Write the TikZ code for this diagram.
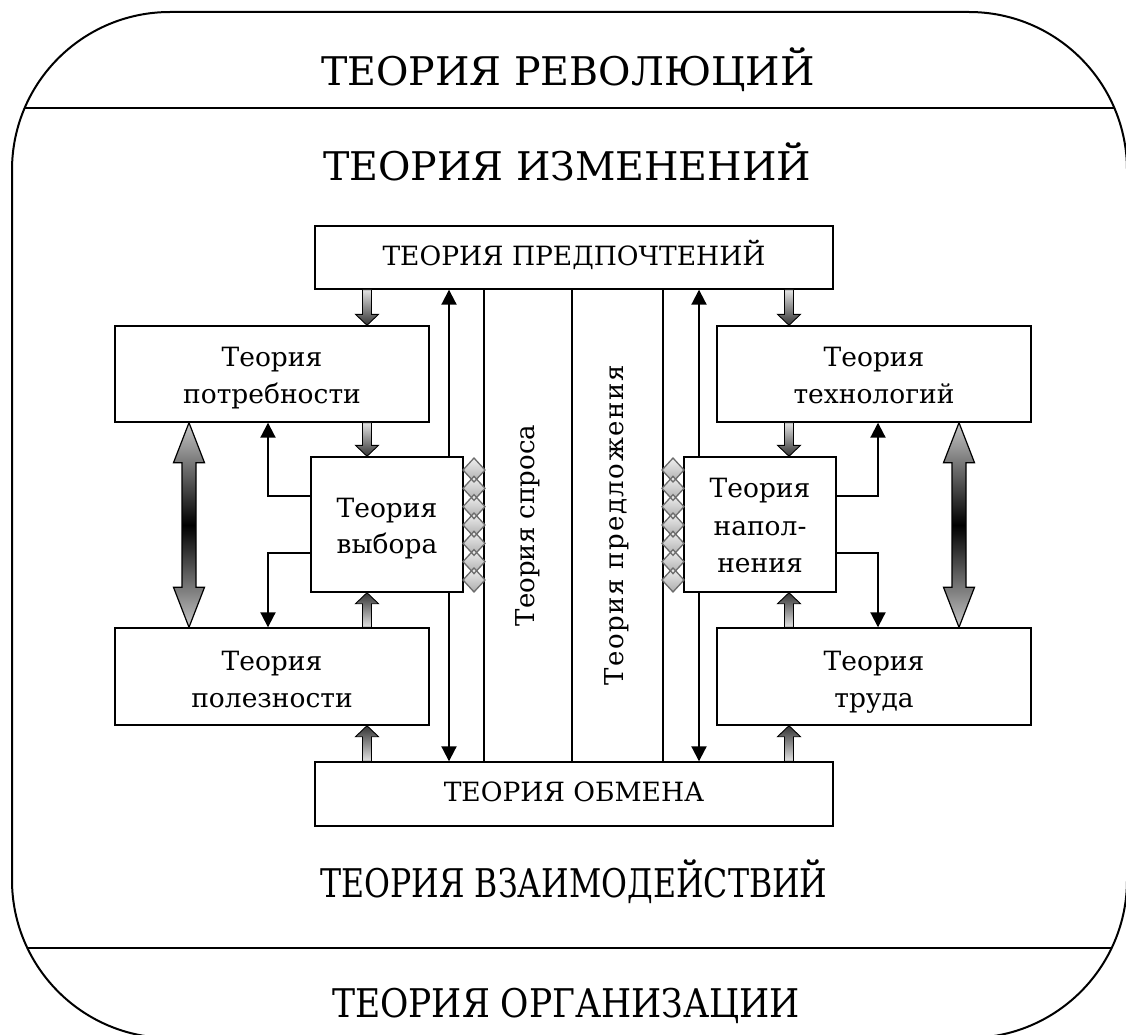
\documentclass[tikz,border=0pt]{standalone}
\usepackage{fontspec}
\newfontfamily\serf{DejaVu Serif}
\usetikzlibrary{arrows.meta,calc}
\tikzset{
  box/.style={draw, line width=1.4pt, fill=white, inner sep=0pt},
  btext/.style={anchor=base, inner sep=0pt, font=\serf\fontsize{26.5}{37}\selectfont},
  col/.style={draw, line width=1.4pt, inner sep=0pt},
  coltext/.style={rotate=90, inner sep=0pt, font=\serf\fontsize{26}{37}\selectfont},
  biglabel/.style={inner sep=0pt, font=\serf\fontsize{39.5}{50}\selectfont},
  thinarr/.style={line width=2pt},
  tipa/.style={-{Triangle[length=15pt,width=15pt]}},
  tipb/.style={{Triangle[length=15pt,width=15pt]}-{Triangle[length=15pt,width=15pt]}},
  gdn/.style={draw, line width=0.9pt, top color=gray!22, bottom color=black!80},
  gup/.style={draw, line width=0.9pt, top color=black!80, bottom color=gray!22},
  dbl/.style={draw, line width=1.2pt, top color=gray!45, bottom color=gray!45, middle color=black},
  diafill/.style={top color=gray!12, bottom color=gray!65},
  diadraw/.style={draw=gray!85!black, line width=1.3pt},
}
\newcommand\myGdown[2]{%
  \path[gdn] let \p1=(#1), \p2=(#2) in
    (\x1-4.5pt,\y1) -- (\x1+4.5pt,\y1) -- (\x1+4.5pt,\y2+11pt) -- (\x1+11.5pt,\y2+11pt)
    -- (\x1,\y2) -- (\x1-11.5pt,\y2+11pt) -- (\x1-4.5pt,\y2+11pt) -- cycle;}
\newcommand\myGup[2]{%
  \path[gup] let \p1=(#1), \p2=(#2) in
    (\x1-4.5pt,\y1) -- (\x1+4.5pt,\y1) -- (\x1+4.5pt,\y2-11pt) -- (\x1+11.5pt,\y2-11pt)
    -- (\x1,\y2) -- (\x1-11.5pt,\y2-11pt) -- (\x1-4.5pt,\y2-11pt) -- cycle;}
\newcommand\myDbl[2]{%
  \path[dbl] let \p1=(#1), \p2=(#2) in
    (\x1,\y1) -- (\x1+15.5pt,\y1-40pt) -- (\x1+7pt,\y1-40pt) -- (\x1+7pt,\y2+40pt)
    -- (\x1+15.5pt,\y2+40pt) -- (\x1,\y2) -- (\x1-15.5pt,\y2+40pt) -- (\x1-7pt,\y2+40pt)
    -- (\x1-7pt,\y1-40pt) -- (\x1-15.5pt,\y1-40pt) -- cycle;}
\begin{document}
\begin{tikzpicture}[x=1pt,y=-1pt]
\useasboundingbox (0,0) rectangle (1126,1035);
% outer frame
\begin{scope}
  \clip (0,0) rectangle (1126,1035);
  \draw[line width=2pt, rounded corners=158pt] (12,12) rectangle (1127,1038);
\end{scope}
\begin{scope}
  \clip[rounded corners=158pt] (12,12) rectangle (1127,1038);
  \draw[line width=1.6pt] (0,108) -- (1126,108);
  \draw[line width=1.6pt] (0,948) -- (1126,948);
\end{scope}
% big labels
\node[biglabel, anchor=base] (rev) at (568,86) {ТЕОРИЯ РЕВОЛЮЦИЙ};
\node[biglabel, anchor=base] (izm) at (567,181) {ТЕОРИЯ ИЗМЕНЕНИЙ};
\node[biglabel, anchor=base] (vzm) at (574,897) {\scalebox{0.8}[1]{ТЕОРИЯ ВЗАИМОДЕЙСТВИЙ}};
\node[biglabel, anchor=base] (org) at (566,1017) {\scalebox{0.875}[1]{ТЕОРИЯ ОРГАНИЗАЦИИ}};
% helper columns
\coordinate (cL) at (367,0);
\coordinate (cR) at (789,0);
\coordinate (lL) at (449,0);
\coordinate (lR) at (699,0);
\coordinate (eL) at (268,0);
\coordinate (eR) at (878,0);
\coordinate (bL) at (189,0);
\coordinate (bR) at (959,0);
% central columns
\node[col, minimum width=88pt, minimum height=473pt] (spros) at (528,525.5) {};
\node[col, minimum width=91pt, minimum height=473pt] (pred) at (617.5,525.5) {};
\node[coltext] (sprost) at (spros.center) {Теория спроса};
\node[coltext] (predt) at ([xshift=-0.5pt]pred.center) {\addfontfeatures{LetterSpace=6.2}Теория предложения};
% main boxes
\node[box, minimum width=518pt, minimum height=63pt] (pref) at (574,257.5) {};
\node[btext] (preft) at ([yshift=-7.5pt]pref.center) {ТЕОРИЯ ПРЕДПОЧТЕНИЙ};
\node[box, minimum width=518pt, minimum height=64pt] (obm) at (574,794) {};
\node[btext] (obmt) at ([yshift=-7pt]obm.center) {ТЕОРИЯ ОБМЕНА};
% long thin arrows
\draw[thinarr, tipb] (pref.south -| lL) -- (obm.north -| lL);
\draw[thinarr, tipb] (pref.south -| lR) -- (obm.north -| lR);
% side boxes
\node[box, minimum width=314pt, minimum height=96pt] (pot) at (272,374) {};
\node[btext] (pot1) at ([yshift=8pt]pot.center) {Теория};
\node[btext] (pot2) at ([yshift=-29pt]pot.center) {потребности};
\node[box, minimum width=314pt, minimum height=97pt] (pol) at (272,676.5) {};
\node[btext] (pol1) at ([yshift=6.5pt]pol.center) {Теория};
\node[btext] (pol2) at ([yshift=-30.5pt]pol.center) {полезности};
\node[box, minimum width=314pt, minimum height=96pt] (tech) at (874,374) {};
\node[btext] (tech1) at ([yshift=8pt]tech.center) {Теория};
\node[btext] (tech2) at ([yshift=-29pt]tech.center) {технологий};
\node[box, minimum width=314pt, minimum height=97pt] (trud) at (874,676.5) {};
\node[btext] (trud1) at ([yshift=6.5pt]trud.center) {Теория};
\node[btext] (trud2) at ([yshift=-30.5pt]trud.center) {труда};
\node[box, minimum width=152pt, minimum height=135pt] (vyb) at (387,524.5) {};
\node[btext] (vyb1) at ([yshift=7.5pt]vyb.center) {Теория};
\node[btext] (vyb2) at ([yshift=-28.5pt]vyb.center) {выбора};
\node[box, minimum width=152pt, minimum height=135pt] (nap) at (760,524.5) {};
\node[btext] (nap1) at ([yshift=27.5pt]nap.center) {Теория};
\node[btext] (nap2) at ([yshift=-10.5pt]nap.center) {напол-};
\node[btext] (nap3) at ([yshift=-47.5pt]nap.center) {нения};
% elbow arrows
\draw[thinarr, tipa] ([yshift=28.5pt]vyb.west) -| (pot.south -| eL);
\draw[thinarr, tipa] ([yshift=-28.5pt]vyb.west) -| (pol.north -| eL);
\draw[thinarr, tipa] ([yshift=28.5pt]nap.east) -| (tech.south -| eR);
\draw[thinarr, tipa] ([yshift=-28.5pt]nap.east) -| (trud.north -| eR);
% gradient block arrows
\myGdown{pref.south -| cL}{pot.north -| cL}
\myGdown{pot.south -| cL}{vyb.north -| cL}
\myGup{pol.north -| cL}{vyb.south -| cL}
\myGup{obm.north -| cL}{pol.south -| cL}
\myGdown{pref.south -| cR}{tech.north -| cR}
\myGdown{tech.south -| cR}{nap.north -| cR}
\myGup{trud.north -| cR}{nap.south -| cR}
\myGup{obm.north -| cR}{trud.south -| cR}
% big double arrows
\myDbl{pot.south -| bL}{pol.north -| bL}
\myDbl{tech.south -| bR}{trud.north -| bR}
% diamond chains
\foreach \xc in {474,673}{
  \foreach \k in {0,...,6}{
    \path[diafill] (\xc,470+18.33*\k-12) -- (\xc+11,470+18.33*\k) -- (\xc,470+18.33*\k+12) -- (\xc-11,470+18.33*\k) -- cycle;
  }
  \foreach \k in {0,...,6}{
    \path[diadraw] (\xc,470+18.33*\k-12) -- (\xc+11,470+18.33*\k) -- (\xc,470+18.33*\k+12) -- (\xc-11,470+18.33*\k) -- cycle;
  }
}
\end{tikzpicture}
\end{document}
